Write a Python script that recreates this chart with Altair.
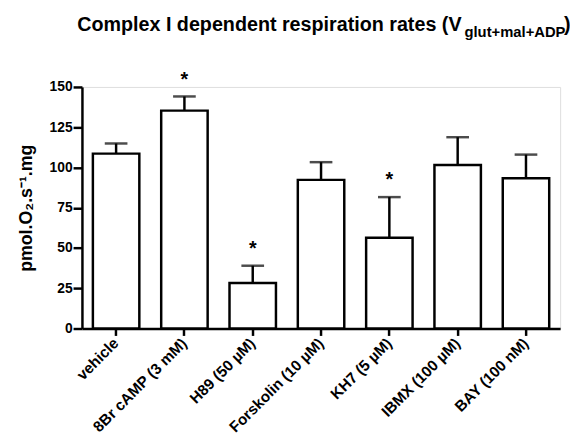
import altair as alt
import pandas as pd

categories = ["vehicle", "8Br cAMP (3 mM)", "H89 (50 µM)", "Forskolin (10 µM)",
              "KH7 (5 µM)", "IBMX (100 µM)", "BAY (100 nM)"]
means = [108.6, 135.3, 28.2, 92.3, 56.3, 101.6, 93.3]
err_tops = [114.9, 144.1, 39.0, 103.3, 81.6, 118.8, 108.0]
significant = [False, True, True, False, True, False, False]
y_ticks = [0, 25, 50, 75, 100, 125, 150]

df = pd.DataFrame({"cat": categories, "mean": means, "err": err_tops, "sig": significant})
df["star"] = ["*" if s else "" for s in significant]

FONT = "Liberation Sans"

x_enc = alt.X("cat:N", sort=categories, title=None,
              scale=alt.Scale(paddingInner=0.32, paddingOuter=0.16),
              axis=alt.Axis(labelAngle=-45, labelAlign="right", labelBaseline="middle",
                            labelFontSize=15.5, labelFontWeight="bold", labelFont=FONT,
                            labelColor="black", tickSize=7, tickWidth=2.5, tickColor="black",
                            domainColor="black", domainWidth=2.5, labelPadding=5))
y_scale = alt.Scale(domain=[0, 150], nice=False)

bars = alt.Chart(df).mark_bar(fill="white", stroke="black", strokeWidth=2.5).encode(
    x=x_enc,
    y=alt.Y("mean:Q", scale=y_scale, title="pmol.O₂.s⁻¹.mg",
            axis=alt.Axis(values=y_ticks, grid=False, labelFontSize=14, labelFontWeight="bold",
                          labelFont=FONT, labelColor="black", tickSize=9, tickWidth=2.5,
                          tickColor="black", domainColor="black", domainWidth=2.5,
                          labelPadding=1, titleFont=FONT, titleFontSize=18,
                          titleFontWeight="bold", titleColor="black", titlePadding=14)),
)

err_line = alt.Chart(df).mark_rule(color="black", strokeWidth=2.5).encode(
    x=alt.X("cat:N", sort=categories), y="mean:Q", y2="err:Q")
err_cap = alt.Chart(df).mark_tick(color="black", thickness=2.5, size=23).encode(
    x=alt.X("cat:N", sort=categories), y="err:Q")
stars = alt.Chart(df).mark_text(fontSize=20, fontWeight="bold", font=FONT, color="black",
                                dy=-11, baseline="alphabetic").encode(
    x=alt.X("cat:N", sort=categories), y="err:Q", text="star:N")

title_df = pd.DataFrame({"t": ["Complex I dependent respiration rates (V"]})
title_main = alt.Chart(title_df).mark_text(fontSize=20, fontWeight="bold", font=FONT,
                                           color="black", align="right",
                                           baseline="alphabetic").encode(
    x=alt.value(385), y=alt.value(-57), text="t:N")
sub_df = pd.DataFrame({"t": ["glut+mal+ADP"]})
title_sub = alt.Chart(sub_df).mark_text(fontSize=15, fontWeight="bold", font=FONT,
                                        color="black", align="left",
                                        baseline="alphabetic").encode(
    x=alt.value(388), y=alt.value(-51), text="t:N")
par_df = pd.DataFrame({"t": [")"]})
title_par = alt.Chart(par_df).mark_text(fontSize=20, fontWeight="bold", font=FONT,
                                        color="black", align="left",
                                        baseline="alphabetic").encode(
    x=alt.value(489), y=alt.value(-57), text="t:N")

chart = alt.layer(bars, err_line, err_cap, stars, title_main, title_sub, title_par).properties(
    width=485, height=245,
    autosize=alt.AutoSizeParams(type="none"),
    padding={"left": 75, "top": 77, "right": 10, "bottom": 111},
).configure_view(stroke=None).configure(background="white")

chart.save("out.html", embed_options={"renderer": "svg", "actions": False})
